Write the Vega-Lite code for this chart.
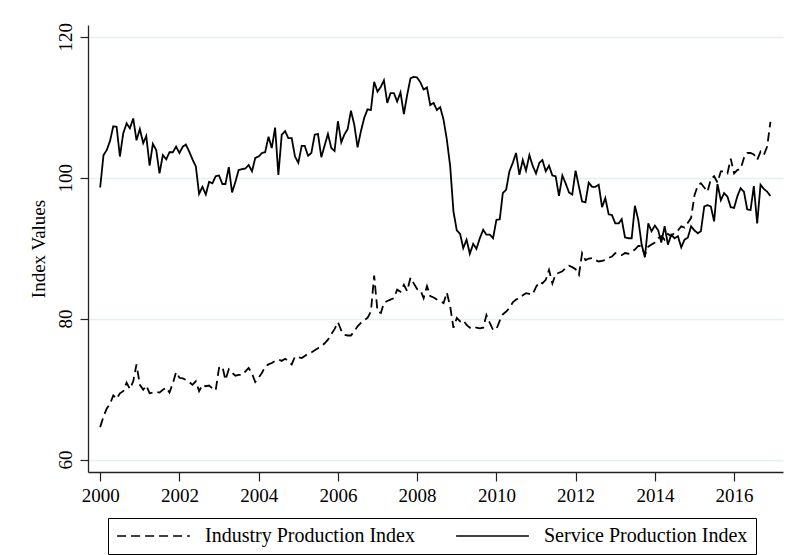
{
  "$schema": "https://vega.github.io/schema/vega-lite/v6.json",
  "width": 695,
  "height": 447,
  "autosize": {"type": "none"},
  "padding": {"left": 88, "top": 25, "right": 7, "bottom": 83},
  "background": "white",
  "datasets": {
    "idx": [
      {"d":"2000-01","I":64.6,"S":98.6},{"d":"2000-02","I":66.1,"S":103.2},{"d":"2000-03","I":67.2,"S":103.9},{"d":"2000-04","I":67.9,"S":105.2},{"d":"2000-05","I":69.1,"S":107.3},{"d":"2000-06","I":68.6,"S":107.2},{"d":"2000-07","I":69.4,"S":103.0},{"d":"2000-08","I":69.7,"S":106.3},{"d":"2000-09","I":70.9,"S":107.7},{"d":"2000-10","I":70.0,"S":107.0},{"d":"2000-11","I":71.1,"S":108.4},{"d":"2000-12","I":73.5,"S":105.3},
      {"d":"2001-01","I":70.6,"S":106.9},{"d":"2001-02","I":69.9,"S":104.9},{"d":"2001-03","I":70.5,"S":105.9},{"d":"2001-04","I":69.4,"S":101.7},{"d":"2001-05","I":69.5,"S":104.8},{"d":"2001-06","I":69.6,"S":103.9},{"d":"2001-07","I":69.5,"S":100.6},{"d":"2001-08","I":69.9,"S":103.2},{"d":"2001-09","I":70.2,"S":102.6},{"d":"2001-10","I":69.5,"S":103.6},{"d":"2001-11","I":70.8,"S":103.6},{"d":"2001-12","I":72.4,"S":104.4},
      {"d":"2002-01","I":71.6,"S":103.5},{"d":"2002-02","I":71.5,"S":104.4},{"d":"2002-03","I":71.3,"S":104.7},{"d":"2002-04","I":71.0,"S":103.7},{"d":"2002-05","I":70.6,"S":102.6},{"d":"2002-06","I":71.1,"S":101.6},{"d":"2002-07","I":69.7,"S":97.7},{"d":"2002-08","I":70.6,"S":98.7},{"d":"2002-09","I":70.4,"S":97.6},{"d":"2002-10","I":70.5,"S":99.4},{"d":"2002-11","I":70.1,"S":99.2},{"d":"2002-12","I":69.8,"S":100.2},
      {"d":"2003-01","I":73.0,"S":100.3},{"d":"2003-02","I":73.2,"S":99.1},{"d":"2003-03","I":71.3,"S":99.1},{"d":"2003-04","I":72.8,"S":101.5},{"d":"2003-05","I":72.3,"S":97.9},{"d":"2003-06","I":71.9,"S":99.4},{"d":"2003-07","I":72.0,"S":101.1},{"d":"2003-08","I":72.0,"S":101.2},{"d":"2003-09","I":72.5,"S":101.3},{"d":"2003-10","I":73.0,"S":101.8},{"d":"2003-11","I":72.2,"S":100.9},{"d":"2003-12","I":71.0,"S":102.8},
      {"d":"2004-01","I":71.6,"S":103.0},{"d":"2004-02","I":72.3,"S":103.5},{"d":"2004-03","I":73.2,"S":103.6},{"d":"2004-04","I":73.5,"S":105.8},{"d":"2004-05","I":73.7,"S":104.2},{"d":"2004-06","I":74.0,"S":107.1},{"d":"2004-07","I":74.2,"S":100.4},{"d":"2004-08","I":74.0,"S":106.1},{"d":"2004-09","I":74.3,"S":106.6},{"d":"2004-10","I":74.0,"S":105.6},{"d":"2004-11","I":73.5,"S":105.6},{"d":"2004-12","I":74.6,"S":103.0},
      {"d":"2005-01","I":74.5,"S":102.1},{"d":"2005-02","I":74.4,"S":104.5},{"d":"2005-03","I":74.7,"S":104.5},{"d":"2005-04","I":75.0,"S":103.1},{"d":"2005-05","I":75.2,"S":103.5},{"d":"2005-06","I":75.5,"S":106.1},{"d":"2005-07","I":75.8,"S":106.2},{"d":"2005-08","I":76.1,"S":102.9},{"d":"2005-09","I":76.5,"S":104.6},{"d":"2005-10","I":77.0,"S":106.2},{"d":"2005-11","I":77.8,"S":104.2},{"d":"2005-12","I":78.5,"S":103.8},
      {"d":"2006-01","I":79.5,"S":108.0},{"d":"2006-02","I":78.3,"S":105.0},{"d":"2006-03","I":77.7,"S":106.1},{"d":"2006-04","I":77.6,"S":106.9},{"d":"2006-05","I":77.6,"S":109.5},{"d":"2006-06","I":78.2,"S":107.5},{"d":"2006-07","I":78.9,"S":104.3},{"d":"2006-08","I":79.4,"S":106.6},{"d":"2006-09","I":79.8,"S":108.5},{"d":"2006-10","I":80.1,"S":109.7},{"d":"2006-11","I":81.0,"S":109.6},{"d":"2006-12","I":86.1,"S":113.6},
      {"d":"2007-01","I":81.0,"S":112.2},{"d":"2007-02","I":80.8,"S":112.9},{"d":"2007-03","I":82.2,"S":113.8},{"d":"2007-04","I":82.5,"S":110.6},{"d":"2007-05","I":82.7,"S":112.0},{"d":"2007-06","I":82.9,"S":112.0},{"d":"2007-07","I":84.1,"S":110.8},{"d":"2007-08","I":83.8,"S":112.1},{"d":"2007-09","I":84.8,"S":109.0},{"d":"2007-10","I":83.9,"S":111.7},{"d":"2007-11","I":85.8,"S":114.1},{"d":"2007-12","I":85.0,"S":114.3},
      {"d":"2008-01","I":84.2,"S":114.2},{"d":"2008-02","I":84.0,"S":113.5},{"d":"2008-03","I":82.9,"S":112.5},{"d":"2008-04","I":84.6,"S":112.8},{"d":"2008-05","I":83.2,"S":110.3},{"d":"2008-06","I":83.0,"S":110.6},{"d":"2008-07","I":82.7,"S":109.6},{"d":"2008-08","I":82.5,"S":110.0},{"d":"2008-09","I":82.2,"S":108.2},{"d":"2008-10","I":83.7,"S":105.4},{"d":"2008-11","I":81.7,"S":101.6},{"d":"2008-12","I":78.7,"S":95.2},
      {"d":"2009-01","I":80.1,"S":92.5},{"d":"2009-02","I":79.6,"S":92.0},{"d":"2009-03","I":79.8,"S":90.0},{"d":"2009-04","I":79.1,"S":91.2},{"d":"2009-05","I":78.7,"S":89.2},{"d":"2009-06","I":78.9,"S":90.6},{"d":"2009-07","I":78.7,"S":89.9},{"d":"2009-08","I":78.6,"S":91.4},{"d":"2009-09","I":78.7,"S":92.6},{"d":"2009-10","I":80.5,"S":91.9},{"d":"2009-11","I":79.4,"S":91.9},{"d":"2009-12","I":78.4,"S":91.4},
      {"d":"2010-01","I":78.5,"S":94.0},{"d":"2010-02","I":79.7,"S":94.1},{"d":"2010-03","I":80.6,"S":97.8},{"d":"2010-04","I":81.0,"S":98.3},{"d":"2010-05","I":81.5,"S":100.9},{"d":"2010-06","I":82.3,"S":102.1},{"d":"2010-07","I":82.7,"S":103.5},{"d":"2010-08","I":82.9,"S":100.4},{"d":"2010-09","I":83.3,"S":102.5},{"d":"2010-10","I":83.6,"S":101.0},{"d":"2010-11","I":83.5,"S":103.2},{"d":"2010-12","I":83.4,"S":101.7},
      {"d":"2011-01","I":84.5,"S":100.6},{"d":"2011-02","I":85.2,"S":102.1},{"d":"2011-03","I":85.0,"S":102.5},{"d":"2011-04","I":85.5,"S":100.9},{"d":"2011-05","I":86.9,"S":101.7},{"d":"2011-06","I":85.0,"S":100.3},{"d":"2011-07","I":86.3,"S":100.2},{"d":"2011-08","I":86.5,"S":97.4},{"d":"2011-09","I":86.7,"S":100.3},{"d":"2011-10","I":87.2,"S":99.2},{"d":"2011-11","I":87.5,"S":97.9},{"d":"2011-12","I":87.3,"S":97.6},
      {"d":"2012-01","I":87.0,"S":101.0},{"d":"2012-02","I":86.2,"S":98.7},{"d":"2012-03","I":89.3,"S":96.6},{"d":"2012-04","I":88.3,"S":96.5},{"d":"2012-05","I":88.5,"S":99.3},{"d":"2012-06","I":88.6,"S":98.7},{"d":"2012-07","I":88.3,"S":98.7},{"d":"2012-08","I":88.1,"S":99.0},{"d":"2012-09","I":88.2,"S":95.8},{"d":"2012-10","I":88.3,"S":97.1},{"d":"2012-11","I":88.6,"S":94.8},{"d":"2012-12","I":88.8,"S":94.7},
      {"d":"2013-01","I":89.3,"S":93.5},{"d":"2013-02","I":89.1,"S":93.5},{"d":"2013-03","I":89.0,"S":94.1},{"d":"2013-04","I":89.3,"S":91.5},{"d":"2013-05","I":89.2,"S":91.4},{"d":"2013-06","I":89.5,"S":91.4},{"d":"2013-07","I":89.8,"S":96.0},{"d":"2013-08","I":90.3,"S":94.0},{"d":"2013-09","I":90.3,"S":90.5},{"d":"2013-10","I":89.0,"S":88.7},{"d":"2013-11","I":90.2,"S":93.5},{"d":"2013-12","I":90.5,"S":92.4},
      {"d":"2014-01","I":90.8,"S":93.2},{"d":"2014-02","I":91.4,"S":92.5},{"d":"2014-03","I":91.7,"S":90.8},{"d":"2014-04","I":91.2,"S":93.1},{"d":"2014-05","I":92.0,"S":90.5},{"d":"2014-06","I":91.7,"S":91.9},{"d":"2014-07","I":92.2,"S":91.4},{"d":"2014-08","I":92.5,"S":91.7},{"d":"2014-09","I":93.1,"S":90.1},{"d":"2014-10","I":92.9,"S":91.2},{"d":"2014-11","I":93.6,"S":91.5},{"d":"2014-12","I":94.3,"S":93.1},
      {"d":"2015-01","I":97.5,"S":92.5},{"d":"2015-02","I":98.9,"S":92.1},{"d":"2015-03","I":99.2,"S":92.4},{"d":"2015-04","I":98.6,"S":95.9},{"d":"2015-05","I":98.0,"S":96.1},{"d":"2015-06","I":99.8,"S":95.9},{"d":"2015-07","I":100.2,"S":93.8},{"d":"2015-08","I":99.3,"S":99.1},{"d":"2015-09","I":100.9,"S":96.8},{"d":"2015-10","I":100.9,"S":97.8},{"d":"2015-11","I":100.6,"S":97.3},{"d":"2015-12","I":102.7,"S":95.8},
      {"d":"2016-01","I":100.6,"S":95.7},{"d":"2016-02","I":101.1,"S":97.4},{"d":"2016-03","I":101.2,"S":98.5},{"d":"2016-04","I":102.8,"S":98.0},{"d":"2016-05","I":103.5,"S":95.5},{"d":"2016-06","I":103.5,"S":95.4},{"d":"2016-07","I":103.3,"S":98.8},{"d":"2016-08","I":102.5,"S":93.5},{"d":"2016-09","I":103.7,"S":99.0},{"d":"2016-10","I":103.2,"S":98.4},{"d":"2016-11","I":104.4,"S":98.0},{"d":"2016-12","I":107.9,"S":97.4}
    ]
  },
  "data": {"name": "idx", "format": {"parse": {"d": "date:'%Y-%m'"}}},
  "transform": [
    {"fold": ["I", "S"], "as": ["key", "value"]},
    {"lookup": "key", "from": {"data": {"values": [{"key": "I", "series": "Industry Production Index"}, {"key": "S", "series": "Service Production Index"}]}, "key": "key", "fields": ["series"]}}
  ],
  "mark": {"type": "line", "strokeWidth": 1.8, "color": "black", "strokeJoin": "miter", "strokeMiterLimit": 4},
  "encoding": {
    "x": {
      "field": "d",
      "type": "temporal",
      "scale": {"domain": [{"year": 1999, "month": 9, "date": 11}, {"year": 2017, "month": 3, "date": 27}]},
      "axis": {
        "values": [{"year": 2000}, {"year": 2002}, {"year": 2004}, {"year": 2006}, {"year": 2008}, {"year": 2010}, {"year": 2012}, {"year": 2014}, {"year": 2016}],
        "format": "%Y",
        "title": null,
        "grid": false,
        "tickSize": 9,
        "tickWidth": 1.2,
        "labelPadding": 5,
        "labelFont": "Liberation Serif",
        "labelFontSize": 19,
        "labelColor": "black",
        "labelFlush": false,
        "labelOverlap": false,
        "domainColor": "#222",
        "domainWidth": 1.3,
        "tickColor": "#222"
      }
    },
    "y": {
      "field": "value",
      "type": "quantitative",
      "scale": {"domain": [58.23, 121.66], "nice": false, "zero": false},
      "axis": {
        "values": [60, 80, 100, 120],
        "title": "Index Values",
        "titleFont": "Liberation Serif",
        "titleFontSize": 19,
        "titleFontWeight": "normal",
        "titleColor": "black",
        "titlePadding": 8,
        "grid": true,
        "gridColor": "#e6eff1",
        "gridWidth": 1.5,
        "tickSize": 8,
        "tickWidth": 1.2,
        "labelAngle": 270,
        "labelAlign": "center",
        "labelBaseline": "bottom",
        "labelPadding": 5,
        "labelFont": "Liberation Serif",
        "labelFontSize": 19,
        "labelColor": "black",
        "domainColor": "#222",
        "domainWidth": 1.3,
        "tickColor": "#222"
      }
    },
    "strokeDash": {
      "field": "series",
      "type": "nominal",
      "scale": {"domain": ["Industry Production Index", "Service Production Index"], "range": [[9, 5], [1, 0]]},
      "legend": {
        "orient": "none",
        "legendX": 20,
        "legendY": 493,
        "direction": "horizontal",
        "title": null,
        "symbolType": "stroke",
        "symbolSize": 5300,
        "clipHeight": 20,
        "symbolStrokeWidth": 1.6,
        "symbolStrokeColor": "black",
        "labelFont": "Liberation Serif",
        "labelFontSize": 20,
        "labelColor": "black",
        "labelLimit": 400,
        "labelOffset": 14,
        "columnPadding": 40,
        "padding": 8,
        "strokeColor": "black",
        "fillColor": "white"
      }
    }
  },
  "config": {"view": {"stroke": null}}
}
